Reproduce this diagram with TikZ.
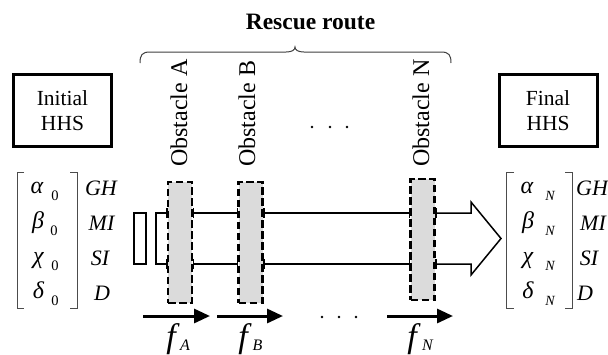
\documentclass[tikz,border=0pt]{standalone}
\usepackage{fontspec}
\setmainfont{Liberation Serif}
\usetikzlibrary{arrows.meta}
\begin{document}
\begin{tikzpicture}[x=1pt,y=-1pt,
  hhs/.style={draw,line width=3pt,minimum width=98pt,minimum height=72pt,align=center,inner sep=0,font=\fontsize{21.5}{25}\selectfont},
  obst/.style={draw,fill=black!14,line width=2.5pt,dash pattern=on 7.5pt off 3.5pt,minimum width=24pt,minimum height=121pt,inner sep=0},
  olab/.style={rotate=90,anchor=base west,inner sep=0,font=\fontsize{24}{28}\selectfont},
  gk/.style={anchor=base,inner sep=0,font=\fontsize{24}{28}\selectfont\itshape},
  sbu/.style={anchor=base,inner sep=0,font=\fontsize{14.5}{17}\selectfont},
  sbi/.style={anchor=base,inner sep=0,font=\fontsize{14}{17}\selectfont\itshape},
  lab/.style={anchor=base,inner sep=0,font=\fontsize{22}{26}\selectfont\itshape},
  brk/.style={draw=black!70,line width=1pt},
  shaft/.style={draw,line width=1.5pt},
  farrow/.style={draw,line width=3pt,-{Triangle[length=16pt,width=14pt]}},
  fl/.style={anchor=base,inner sep=0,font=\fontsize{34}{38}\selectfont\itshape},
  fs/.style={anchor=base,inner sep=0,font=\fontsize{16}{19}\selectfont\itshape},
  dotc/.style={fill=black,draw=none}
]
\useasboundingbox[fill=white] (0,0) rectangle (608,354);

% title and brace
\node[anchor=base,inner sep=0,font=\fontsize{23.5}{28}\selectfont\bfseries] (title) at (310.5,29) {Rescue route};
\draw[draw=black!75,line width=1pt] (140,63) .. controls (140,55) and (142,52) .. (150,52) -- (286,52)
  .. controls (292,52) and (295,50) .. (295,47) .. controls (295,50) and (298,52) .. (304,52)
  -- (441,52) .. controls (449,52) and (451,55) .. (451,63);

% HHS boxes
\node[hhs] (init) at (62.5,110.5) {Initial\\HHS};
\node[hhs] (final) at (548,110.5) {Final\\HHS};

% obstacle labels
\node[olab] (labA) at (187,167) {Obstacle A};
\node[olab] (labB) at (255,167) {Obstacle B};
\node[olab] (labN) at (429,167) {Obstacle N};

% dots
\fill[dotc] (312,127) circle (1.3) (330,127) circle (1.3) (347,127) circle (1.3);
\fill[dotc] (322,317) circle (1.3) (339,317) circle (1.3) (356,317) circle (1.3);

% left matrix
\draw[brk] (24,172) -- (17,172) -- (17,308) -- (24,308);
\draw[brk] (70,172) -- (77,172) -- (77,308) -- (70,308);
\node[gk] (la) at (37,193) {α};   \node[sbu] (la0) at (55,200) {0};
\node[gk] (lb) at (38,228) {β};   \node[sbu] (lb0) at (54,235) {0};
\node[gk] (lc) at (38.5,263) {χ}; \node[sbu] (lc0) at (55,270) {0};
\node[gk] (ld) at (38.5,298) {δ}; \node[sbu] (ld0) at (55,305) {0};
\node[lab] (lGH) at (101,195) {GH};
\node[lab] (lMI) at (101.5,230) {MI};
\node[lab] (lSI) at (100,265) {SI};
\node[lab] (lD) at (102,300) {D};

% right matrix
\draw[brk] (514,172) -- (506,172) -- (506,308) -- (514,308);
\draw[brk] (565,172) -- (572,172) -- (572,308) -- (565,308);
\node[gk] (ra) at (527,193) {α};   \node[sbi] (raN) at (550,200) {N};
\node[gk] (rb) at (528,228) {β};   \node[sbi] (rbN) at (550,235) {N};
\node[gk] (rc) at (528,263) {χ};   \node[sbi] (rcN) at (550,270) {N};
\node[gk] (rd) at (528,298) {δ};   \node[sbi] (rdN) at (550,305) {N};
\node[lab] (rGH) at (592,195) {GH};
\node[lab] (rMI) at (593,230) {MI};
\node[lab] (rSI) at (589,265) {SI};
\node[lab] (rD) at (585,300) {D};

% small rectangle
\draw[line width=1.5pt] (134,213) rectangle (146,264);

% obstacles (positions)
\coordinate (t) at (0,213);
\coordinate (b) at (0,264);
\path (180,242.3) coordinate (cA) (250.6,242.3) coordinate (cB) (422.5,239.5) coordinate (cN);

% shaft
\node[obst,draw=none,fill=none] (oA) at (cA) {};
\node[obst,draw=none,fill=none] (oB) at (cB) {};
\node[obst,draw=none,fill=none] (oN) at (cN) {};
\draw[shaft] (oA.west |- t) -- (156,213) -- (156,264) -- (oA.west |- b);
\draw[shaft] (oA.east |- t) -- (oB.west |- t);
\draw[shaft] (oA.east |- b) -- (oB.west |- b);
\draw[shaft] (oB.east |- t) -- (oN.west |- t);
\draw[shaft] (oB.east |- b) -- (oN.west |- b);
\draw[shaft] (oN.east |- t) -- (471,213) -- (471,202) -- (501,238.5) -- (471,275) -- (471,264) -- (oN.east |- b);

\node[obst] at (cA) {};
\node[obst] at (cB) {};
\node[obst] at (cN) {};
\foreach \o in {oA,oB,oN}{
  \foreach \s in {west,east}{
    \draw[line width=1.5pt] ([yshift=-5pt]\o.\s |- t) -- ([yshift=5pt]\o.\s |- t);
    \draw[line width=1.5pt] ([yshift=-5pt]\o.\s |- b) -- ([yshift=5pt]\o.\s |- b);
  }
}

% forces
\coordinate (fA1) at (143,316); \coordinate (fA2) at (210,316);
\coordinate (fB1) at (217,316); \coordinate (fB2) at (283,316);
\coordinate (fN1) at (387,316); \coordinate (fN2) at (453,316);
\draw[farrow] (fA1) -- (fA2);
\draw[farrow] (fB1) -- (fB2);
\draw[farrow] (fN1) -- (fN2);
\node[fl] (fA) at (171,347) {f}; \node[fs] (fAs) at (185,350) {A};
\node[fl] (fB) at (243,347) {f}; \node[fs] (fBs) at (257.5,350) {B};
\node[fl] (fN) at (412,347) {f}; \node[fs] (fNs) at (427.5,350) {N};
\end{tikzpicture}
\end{document}
